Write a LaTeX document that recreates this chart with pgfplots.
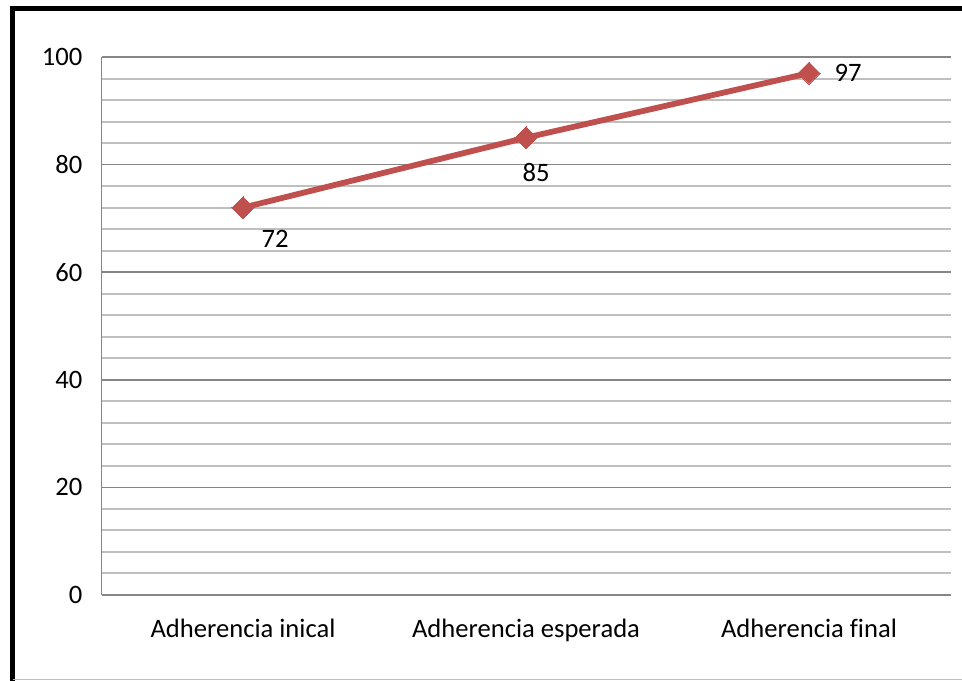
\documentclass[border=0pt]{standalone}
\usepackage{pgfplots}
\pgfplotsset{compat=1.18}
\usepackage{fontspec}
\setmainfont{Carlito}[Ligatures=NoCommon]
\definecolor{serie}{HTML}{C0504D}
\definecolor{majg}{HTML}{868686}
\definecolor{ming}{HTML}{BFBFBF}
\begin{document}
\fontsize{13.3bp}{16bp}\selectfont
\begin{tikzpicture}
\useasboundingbox (0,0) rectangle (481bp,340.5bp);
\draw[line width=2.5bp,black] (6.25bp,0) -- (6.25bp,336.25bp) -- (481bp,336.25bp);
\draw[line width=0.75bp,ming] (6.25bp,0.75bp) -- (481bp,0.75bp);
\begin{axis}[
  at={(50.75bp,43bp)}, anchor=south west,
  scale only axis, width=424.5bp, height=269bp,
  xmin=-0.5, xmax=2.5, ymin=0, ymax=100,
  xtick={0,1,2},
  xticklabels={Adherencia inical, Adherencia esperada, Adherencia final},
  ytick={0,20,40,60,80,100},
  minor ytick={4,8,12,16,24,28,32,36,44,48,52,56,64,68,72,76,84,88,92,96},
  ymajorgrids, yminorgrids,
  major grid style={majg, line width=0.8bp},
  minor grid style={ming, line width=1bp},
  major tick length=0pt, minor tick length=0pt,
  axis x line*=bottom, axis y line*=left,
  x axis line style={majg, line width=1.1bp, -},
  y axis line style={majg, line width=0.75bp, -},
  tick label style={font=\fontsize{13.3bp}{16bp}\selectfont, black},
  yticklabel style={xshift=-5bp},
  xticklabel style={yshift=-7.5bp},
  /pgf/number format/assume math mode=true,
  clip=false,
]
\addplot[serie, line width=2.9bp, mark=square*, mark size=3.9bp,
  mark options={rotate=45, solid, fill=serie, draw=serie, line width=0pt}]
  coordinates {(0,72) (1,85) (2,97)};
\node at (axis cs:0,72) [xshift=16bp, yshift=-15.5bp] {72};
\node at (axis cs:1,85) [xshift=5bp, yshift=-17.5bp] {85};
\node at (axis cs:2,97) [xshift=19.5bp, yshift=0bp] {97};
\end{axis}
\end{tikzpicture}
\end{document}
